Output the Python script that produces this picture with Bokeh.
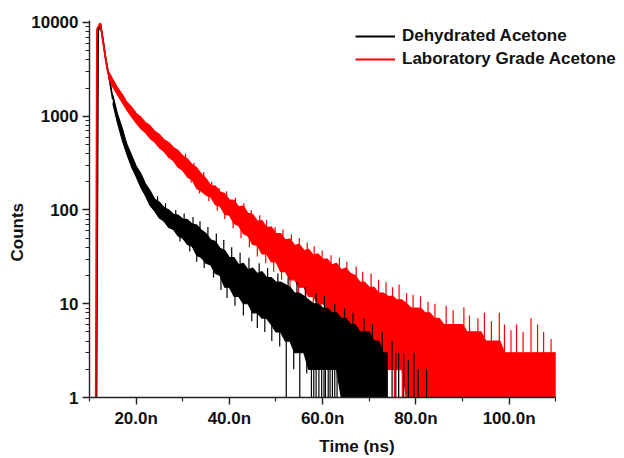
from bokeh.plotting import figure
from bokeh.models import Range1d, FixedTicker, Legend, LegendItem, Title
from bokeh.embed import file_html
from bokeh.resources import INLINE

# ---------------- data (time in ns, photon counts) ----------------
# rising edge and peak of each decay
red_head_t = [11.35, 11.6, 12.3, 12.8, 13.4, 14.0]
red_head_c = [1, 8500, 9800, 6800, 4300, 2820]
black_head_t = [11.5, 11.85, 12.35, 12.9, 13.5, 14.2, 15.0]
black_head_c = [1, 8000, 9700, 6500, 4000, 2650, 1510]

# noise band of the laboratory grade sample, 1 ns steps from 14 to 110 ns
red_band_t = list(range(14, 111))
red_upper = [3050, 2480, 2020, 1720, 1420, 1260, 1080, 980, 860, 790,
             690, 640, 560, 525, 465, 430, 380, 350, 305, 282,
             242, 216, 182, 180, 156, 150, 128, 127, 108, 110,
             92, 90, 76, 77, 65, 66, 56, 56, 48, 49,
             42, 43, 37, 38, 33, 34, 30, 30, 26, 27,
             23, 24, 21, 20, 17, 17, 15, 15, 13, 13,
             12, 12, 11, 11, 10, 9, 9, 9, 8, 8,
             7, 7, 6, 6, 6, 6, 6, 5, 5, 5,
             5, 4, 4, 4, 4, 3, 3, 3, 3, 3,
             3, 3, 3, 3, 3, 3, 3]
red_lower = [2600, 2050, 1700, 1400, 1170, 990, 850, 740, 670, 580,
             530, 460, 420, 365, 335, 285, 265, 225, 210, 170,
             158, 144, 138, 114, 110, 90, 88, 72, 68, 56,
             53, 43, 42, 34, 34, 28, 28, 22, 22, 18,
             18, 15, 15, 12, 12, 10, 10, 9, 8, 7,
             6, 6, 5, 4, 4, 4, 3, 3, 3, 2,
             2, 2, 2, 2, 1, 1, 1, 1, 1, 1,
             1, 1, 1, 1, 1, 1, 1, 1, 1, 1,
             1, 1, 1, 1, 1, 1, 1, 1, 1, 1,
             1, 1, 1, 1, 1, 1, 1]

# noise band of the dehydrated sample, 1 ns steps from 15 to 74 ns
black_band_t = list(range(15, 75))
black_upper = [1680, 1060, 750, 505, 385, 295, 245, 190, 160, 130,
               121, 106, 100, 90, 88, 80, 79, 71, 69, 61,
               56, 48, 46, 39, 37, 31, 31, 26, 27, 23,
               24, 21, 22, 19, 19, 17, 17, 16, 15, 13,
               13, 12, 11, 10, 10, 9, 9, 8, 8, 7,
               7, 6, 6, 5, 5, 5, 4, 4, 3, 3]
black_lower = [1370, 850, 560, 395, 290, 228, 175, 142, 112, 97,
               82, 76, 65, 62, 53, 50, 43, 41, 33, 31,
               27, 26, 21, 20, 15, 15, 12, 12, 10, 10,
               8, 8, 7, 7, 6, 5, 5, 4, 4, 3,
               3, 3, 2, 2, 2, 2, 2, 2, 2, 1,
               1, 1, 1, 1, 1, 1, 1, 1, 1, 1]

# single-channel excursions outside the bands: time, from, to
red_spike_t = [30.6, 32.4, 34.5, 36.2, 37.8, 39.4, 41.3, 43.1, 44.7, 46.5,
               48.0, 49.8, 51.5, 53.3, 55.0, 56.7, 58.2, 59.9, 61.8, 63.6,
               65.2, 67.2, 68.6, 70.4, 72.0, 73.6, 75.0, 76.4, 78.0, 79.4,
               81.0, 82.6, 84.1, 86.5, 88.0, 90.3, 91.5, 93.3, 94.7, 96.2,
               97.9, 99.0, 100.4, 101.6, 103.0, 104.7, 106.1, 107.4, 109.0,
               31.8, 33.6, 35.6, 37.4, 39.0, 40.8, 42.5, 44.3, 46.0, 47.8,
               49.5, 51.2, 53.0, 54.8, 56.4, 58.0, 59.6,
               75.4, 76.3, 77.1, 77.9, 78.6, 79.2, 80.0, 80.8, 81.5]
red_spike_from = [300, 250, 190, 150, 125, 110, 90, 75, 62, 52,
                  45, 38, 32, 27, 23, 20, 17, 15, 13, 11,
                  10, 8, 7, 6, 5, 5, 4, 4, 3, 3,
                  3, 2, 2, 2, 2, 2, 2, 2, 2, 2,
                  2, 2, 2, 2, 2, 2, 2, 2, 2,
                  280, 220, 170, 140, 120, 100, 85, 72, 60, 52,
                  45, 40, 35, 30, 27, 23, 20,
                  3, 3, 3, 3, 3, 3, 3, 3, 3]
red_spike_to = [400, 320, 255, 200, 172, 158, 135, 118, 100, 88,
                78, 66, 62, 55, 50, 45, 41, 37, 33, 31,
                28, 25, 22, 21, 18, 17, 15, 16, 13, 12.5,
                12, 10.5, 10, 9.5, 8.5, 9.2, 7.5, 7, 8, 6.5,
                8, 6, 5.2, 6, 5, 7, 6, 5, 4.2,
                195, 150, 125, 98, 80, 64, 50, 40, 32, 27,
                22, 18, 15, 12, 10, 8.5, 7,
                1, 1, 1, 1, 1, 1, 1, 1, 1]

black_spike_t = [24.6, 26.3, 28.5, 30.3, 32.2, 33.7, 35.4, 37.2, 38.8, 40.5,
                 42.3, 44.2, 46.4, 48.2, 50.4, 52.6, 54.5, 56.3, 58.6, 60.4,
                 62.6, 64.7, 66.5, 68.9, 70.7, 72.8, 74.9, 75.7, 76.3, 77.4,
                 78.4, 79.6, 80.5, 82.3,
                 29.4, 31.5, 33.0, 34.6, 36.6, 38.2, 39.5, 41.2, 43.0, 44.8,
                 46.0, 47.6, 49.1, 50.8, 52.2, 53.8, 55.1, 56.6, 57.6, 58.1,
                 58.6, 59.2, 59.8, 60.3, 60.6, 61.2, 61.6, 62.1, 62.6, 63.1]
black_spike_from = [110, 90, 75, 62, 55, 48, 40, 33, 28, 22,
                    18, 16, 13, 11, 9, 8, 7, 6, 5, 4,
                    4, 3, 3, 2, 2, 1, 1, 1, 1, 1,
                    1, 1, 1, 1,
                    66, 56, 48, 40, 34, 26, 22, 18, 15, 14,
                    12, 11, 10, 9, 6, 6, 6, 5, 5, 5,
                    4, 5, 4, 4, 4, 4, 3, 4, 3, 3]
black_spike_to = [140, 118, 100, 92, 84, 76, 66, 56, 48, 40,
                  35, 31, 27, 24, 21, 19, 17, 15, 13, 12,
                  10, 9, 8, 7, 6, 5, 4, 3, 3, 3,
                  2.5, 3, 2, 2,
                  46, 36, 28, 24, 19, 14, 11.5, 9.5, 7.5, 6.5,
                  5.5, 5, 4, 3.5, 1, 2, 1, 1.8, 1, 1,
                  1, 1, 1, 1, 1, 1, 1, 1, 1, 1]

series_names = ["Dehydrated Acetone", "Laboratory Grade Acetone"]
series_colors = ["#000000", "#ff0000"]

x_major = [20, 40, 60, 80, 100]
x_minor = [10, 30, 50, 70, 90, 110]
x_labels = ["20.0n", "40.0n", "60.0n", "80.0n", "100.0n"]
y_major = [1, 10, 100, 1000, 10000]
y_labels = ["1", "10", "100", "1000", "10000"]
y_minor = [m * d for d in (1, 10, 100, 1000) for m in range(2, 10)]

FONT = "Liberation Sans"
BLACK, RED = series_colors

# ---------------- figure ----------------
# the frame runs to the right edge so the legend has room; the time axis
# itself is bounded to 10-110 ns
p = figure(width=624, height=458, x_range=Range1d(10, 124.75), y_range=Range1d(1, 10500),
           y_axis_type="log", output_backend="svg", toolbar_location=None,
           min_border_left=89, min_border_right=0, min_border_top=20, min_border_bottom=60)
p.outline_line_color = None
p.xgrid.visible = False
p.ygrid.visible = False
p.background_fill_color = "white"
p.border_fill_color = "white"

# decay curves: laboratory grade first, dehydrated drawn over it
black_head = p.line(black_head_t, black_head_c, line_color=BLACK, line_width=1.8)
red_head = p.line(red_head_t, red_head_c, line_color=RED, line_width=1.8)

p.varea(x=red_band_t, y1=red_lower, y2=red_upper, fill_color=RED)
p.line(red_band_t, red_upper, line_color=RED, line_width=1.2)
p.line(red_band_t, red_lower, line_color=RED, line_width=1.2)
p.segment(x0=red_spike_t, y0=red_spike_from, x1=red_spike_t, y1=red_spike_to,
          line_color=RED, line_width=1.2)

p.varea(x=black_band_t, y1=black_lower, y2=black_upper, fill_color=BLACK)
p.line(black_band_t, black_upper, line_color=BLACK, line_width=1.2)
p.line(black_band_t, black_lower, line_color=BLACK, line_width=1.2)
p.segment(x0=black_spike_t, y0=black_spike_from, x1=black_spike_t, y1=black_spike_to,
          line_color=BLACK, line_width=1.2)

# ---------------- axes ----------------
for ax in (p.xaxis[0], p.yaxis[0]):
    ax.axis_line_color = "#222222"
    ax.axis_line_width = 1.4
    ax.major_tick_line_color = "#222222"
    ax.minor_tick_line_color = "#222222"
    ax.major_tick_line_width = 1.4
    ax.minor_tick_line_width = 1.2
    ax.major_tick_in = 0
    ax.major_tick_out = 7
    ax.minor_tick_in = 0
    ax.minor_tick_out = 4
    ax.major_label_text_font = FONT
    ax.major_label_text_font_style = "bold"
    ax.major_label_text_font_size = "17px"
    ax.major_label_text_color = "#111111"

p.xaxis.bounds = (10, 110)
p.xaxis.ticker = FixedTicker(ticks=x_major, minor_ticks=x_minor)
p.xaxis.major_label_overrides = dict(zip(x_major, x_labels))
p.xaxis.major_label_standoff = 4
p.xaxis.axis_label = "Time (ns)"
p.xaxis.axis_label_standoff = 6
p.xaxis.axis_label_text_font = FONT
p.xaxis.axis_label_text_font_style = "bold"
p.xaxis.axis_label_text_font_size = "17px"
p.xaxis.axis_label_text_color = "#111111"

p.yaxis.ticker = FixedTicker(ticks=y_major, minor_ticks=y_minor)
p.yaxis.major_label_overrides = dict(zip(y_major, y_labels))
p.yaxis.major_label_standoff = 4

# vertical title, placed a little below the middle of the count axis
p.add_layout(Title(text="Counts", align="left", offset=136, standoff=4,
                   text_font=FONT, text_font_style="bold", text_font_size="17px",
                   text_color="#111111"), "left")

# ---------------- legend ----------------
legend = Legend(items=[LegendItem(label=series_names[0], renderers=[black_head]),
                       LegendItem(label=series_names[1], renderers=[red_head])],
                location=(266, 328), orientation="vertical",
                label_text_font=FONT, label_text_font_style="bold",
                label_text_font_size="17px", label_text_color="#111111",
                glyph_width=40, glyph_height=20, label_height=20, label_standoff=7,
                spacing=3, padding=0, margin=0,
                border_line_color=None, background_fill_alpha=0)
p.add_layout(legend)

open("out.html", "w").write(file_html(p, INLINE))
